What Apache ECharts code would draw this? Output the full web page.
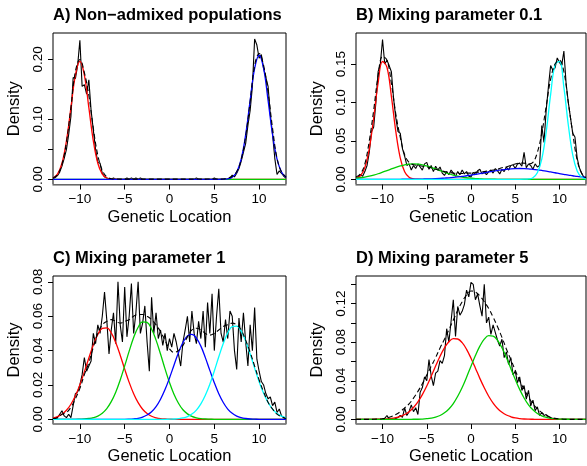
<!DOCTYPE html>
<html>
<head>
    <meta charset="utf-8">
    <title>Genetic Location densities</title>
    <style>
        html, body {
            margin: 0;
            padding: 0;
            background: #fff;
        }
        #chart {
            width: 587px;
            height: 466px;
        }
    </style>
</head>
<body>
    <div id="chart"></div>
    <script src="https://cdn.jsdelivr.net/npm/echarts@6/dist/echarts.min.js"></script>
    <script type="text/javascript">
        // x positions: coarse grid (step 0.5) for smooth curves, fine grid (step 0.25) for the noisy line
        var xCoarse = [];
        for (var i = 0; i <= 52; i++) xCoarse.push(-13 + i * 0.5);
        var xFine = [];
        for (var j = 0; j <= 104; j++) xFine.push(-13 + j * 0.25);

        var xTicks = [-10, -5, 0, 5, 10];

        // ---- A) Non-admixed populations
        var yTicksA = [0, 0.05, 0.10, 0.15, 0.20];
        var yLabelsA = [0, 0.10, 0.20];
        var blackA = [
            .001, .003, .006, .012, .022, .035, .05, .075,
            .105, .17, .168, .19, .232, .155, .158, .142,
            .166, .115, .082, .05, .028, .027, .01, .004,
            .002, .001, 0, .002, 0, 0, 0, 0,
            0, .002, 0, .002, 0, .002, 0, .002,
            0, 0, 0, 0, 0, 0, 0, 0,
            0, 0, 0, 0, 0, 0, 0, 0,
            0, 0, 0, 0, 0, 0, 0, 0,
            .002, 0, 0, 0, 0, 0, 0, 0,
            .002, 0, 0, 0, 0, 0, 0, .002,
            .007, .004, .01, .018, .03, .045, .06, .09,
            .115, .155, .234, .224, .202, .208, .185, .17,
            .155, .108, .075, .035, .008, .014, .01, .005,
            .002
        ];
        var dashedA = [
            .002, .008, .025, .062, .12, .18, .2, .178, .14, .085,
            .04, .015, .004, .001, .0005, .0003, .0003, .0003, .0003, .0003,
            .0003, .0003, .0003, .0003, .0003, .0003, .0003, .0003, .0003, .0003,
            .0003, .0003, .0005, .0003, .0003, .0005, .0005, .0003, .0006, .002,
            .005, .013, .033, .072, .13, .19, .21, .19, .145, .085,
            .035, .012, .004
        ];
        var redA = [
            .0022, .0086, .0267, .064, .1195, .1739, .197, .1739, .1195, .064,
            .0267, .0086, .0022, .0004, .0001, 0, 0, 0, 0, 0,
            0, 0, 0, 0, 0, 0, 0, 0, 0, 0,
            0, 0, 0, 0, 0, 0, 0, 0, 0, 0,
            0, 0, 0, 0, 0, 0, 0, 0, 0, 0,
            0, 0, 0
        ];
        var greenA = [
            0, 0, 0, 0, 0, 0, 0, 0, 0, 0,
            0, 0, 0, 0, 0, 0, 0, 0, 0, 0,
            0, 0, 0, 0, 0, 0, 0, 0, 0, 0,
            0, 0, 0, 0, 0, 0, 0, 0, 0, 0,
            0, 0, 0, 0, 0, 0, 0, 0, 0, 0,
            0, 0, 0
        ];
        var blueA = [
            0, 0, 0, 0, 0, 0, 0, 0, 0, 0,
            0, 0, 0, 0, 0, 0, 0, 0, 0, 0,
            0, 0, 0, 0, 0, 0, 0, 0, 0, 0,
            0, 0, 0, 0, 0, 0, 0, 0, .0001, .0008,
            .0035, .0122, .0337, .0745, .1316, .185, .207, .185, .1316, .0745,
            .0337, .0122, .0035
        ];

        // ---- B) Mixing parameter 0.1
        var yTicksB = [0, 0.05, 0.10, 0.15];
        var yLabelsB = [0, 0.05, 0.10, 0.15];
        var blackB = [
            .002, .003, .006, .004, .01, .018, .035, .062,
            .068, .1, .14, .15, .182, .15, .155, .148,
            .14, .105, .08, .062, .06, .04, .03, .018,
            .02, .012, .018, .014, .02, .016, .012, .02,
            .022, .013, .018, .01, .017, .012, .016, .008,
            .005, .01, .006, .012, .008, .004, .01, .006,
            .012, .007, .01, .004, .003, .009, .006, .011,
            .013, .007, .009, .006, .01, .012, .008, .014,
            .011, .007, .013, .01, .016, .012, .018, .019,
            .014, .02, .021, .017, .035, .015, .02, .018,
            .013, .02, .016, .018, .07, .048, .09, .12,
            .148, .142, .145, .158, .152, .148, .167, .125,
            .1, .08, .06, .055, .028, .015, .008, .003,
            .001
        ];
        var dashedB = [
            .003, .007, .02, .05, .09, .135, .16, .155, .125, .085,
            .055, .032, .022, .019, .018, .017, .016, .015, .013, .012,
            .01, .009, .008, .0075, .0075, .008, .008, .009, .0095, .01,
            .011, .012, .013, .015, .016, .018, .02, .021, .021, .02,
            .022, .035, .06, .095, .13, .15, .155, .14, .1, .06,
            .025, .008, .002
        ];
        var redB = [
            .0011, .0046, .0154, .0397, .08, .1255, .1533, .1458, .108, .0623,
            .028, .0098, .0027, .0006, .0001, 0, 0, 0, 0, 0,
            0, 0, 0, 0, 0, 0, 0, 0, 0, 0,
            0, 0, 0, 0, 0, 0, 0, 0, 0, 0,
            0, 0, 0, 0, 0, 0, 0, 0, 0, 0,
            0, 0, 0
        ];
        var greenB = [
            .0014, .002, .0029, .0041, .0055, .0072, .0092, .0113, .0134, .0155,
            .0173, .0188, .0197, .02, .0197, .0188, .0173, .0155, .0134, .0113,
            .0092, .0072, .0055, .0041, .0029, .002, .0014, .0009, .0006, .0003,
            .0002, .0001, 0, 0, 0, 0, 0, 0, 0, 0,
            0, 0, 0, 0, 0, 0, 0, 0, 0, 0,
            0, 0, 0
        ];
        var blueB = [
            0, 0, 0, 0, 0, 0, 0, 0, 0, 0,
            0, .0001, .0001, .00015, .0002, .0003, .00045, .0006, .0008, .0011,
            .0015, .0019, .0024, .003, .0037, .0046, .0054, .0064, .0074, .0085,
            .0095, .0106, .0115, .0123, .013, .0136, .0139, .014, .0139, .0136,
            .013, .0123, .0115, .0106, .0095, .0085, .0074, .0064, .0054, .0046,
            .0037, .003, .0024
        ];
        var cyanB = [
            0, 0, 0, 0, 0, 0, 0, 0, 0, 0,
            0, 0, 0, 0, 0, 0, 0, 0, 0, 0,
            0, 0, 0, 0, 0, 0, 0, 0, 0, 0,
            0, 0, 0, 0, 0, 0, 0, 0, .0001, .0004,
            .002, .0084, .0261, .0615, .1101, .1493, .1535, .1196, .0707, .0317,
            .0108, .0028, .0005
        ];

        // ---- C) Mixing parameter 1
        var yTicksC = [0, 0.02, 0.04, 0.06, 0.08];
        var yLabelsC = [0, 0.02, 0.04, 0.06, 0.08];
        var blackC = [
            0, .001, .001, .003, .005, .002, .001, .003,
            .001, .008, .015, .016, .02, .026, .036, .028,
            .031, .034, .05, .044, .055, .05, .06, .074,
            .058, .038, .052, .062, .044, .08, .055, .045,
            .077, .048, .06, .079, .05, .062, .08, .05,
            .056, .066, .045, .028, .071, .05, .062, .047,
            .052, .043, .05, .04, .047, .042, .05, .045,
            .038, .031, .045, .052, .06, .045, .063, .05,
            .044, .057, .047, .063, .042, .068, .05, .073,
            .04, .06, .076, .05, .045, .058, .047, .063,
            .06, .04, .029, .059, .045, .062, .045, .031,
            .055, .04, .065, .035, .028, .022, .02, .015,
            .012, .013, .008, .01, .004, .006, .002, .001,
            0
        ];
        var dashedC = [
            .0005, .001, .003, .004, .007, .012, .018, .026, .033, .042,
            .05, .055, .057, .058, .057, .056, .057, .058, .06, .061,
            .061, .06, .058, .055, .051, .046, .041, .039, .04, .043,
            .048, .052, .053, .052, .05, .049, .05, .052, .054, .055,
            .056, .055, .052, .046, .039, .031, .023, .016, .01, .006,
            .003, .0015, .0005
        ];
        var redC = [
            .0008, .0016, .003, .0053, .0088, .0137, .0201, .0276, .0357, .0433,
            .0494, .0529, .0532, .0503, .0447, .0373, .0292, .0215, .0149, .0097,
            .0059, .0034, .0018, .0009, .0004, .0002, .0001, 0, 0, 0,
            0, 0, 0, 0, 0, 0, 0, 0, 0, 0,
            0, 0, 0, 0, 0, 0, 0, 0, 0, 0,
            0, 0, 0
        ];
        var greenC = [
            0, 0, 0, 0, 0, 0, .0001, .0002, .0005, .001,
            .0019, .0036, .0063, .0103, .0158, .0229, .0311, .0397, .0476, .0536,
            .0567, .0564, .0526, .0461, .038, .0294, .0214, .0146, .0094, .0056,
            .0032, .0017, .0009, .0004, .0002, .0001, 0, 0, 0, 0,
            0, 0, 0, 0, 0, 0, 0, 0, 0, 0,
            0, 0, 0
        ];
        var blueC = [
            0, 0, 0, 0, 0, 0, 0, 0, 0, 0,
            0, 0, 0, 0, 0, 0, 0, .0001, .0003, .0006,
            .0013, .0025, .0044, .0074, .0117, .0173, .0241, .0315, .0388, .0447,
            .0485, .0494, .0473, .0426, .0359, .0285, .0213, .0149, .0098, .006,
            .0035, .0019, .001, .0005, .0002, .0001, 0, 0, 0, 0,
            0, 0, 0
        ];
        var cyanC = [
            0, 0, 0, 0, 0, 0, 0, 0, 0, 0,
            0, 0, 0, 0, 0, 0, 0, 0, 0, 0,
            0, 0, 0, 0, 0, 0, .0001, .0002, .0004, .0008,
            .0016, .0031, .0054, .009, .014, .0204, .0281, .0364, .0441, .0503,
            .0539, .0542, .0513, .0455, .038, .0298, .0219, .0152, .0098, .006,
            .0034, .0019, .0009
        ];

        // ---- D) Mixing parameter 5
        var yTicksD = [0, 0.02, 0.04, 0.06, 0.08, 0.10, 0.12, 0.14];
        var yLabelsD = [0, 0.04, 0.08, 0.12];
        var blackD = [
            0, 0, 0, 0, 0, 0, 0, 0,
            0, 0, 0, 0, 0, .001, .004, 0,
            .001, 0, .001, .002, .004, .002, .012, .004,
            .008, .015, .008, .012, .005, .028, .033, .044,
            .04, .062, .045, .035, .048, .05, .061, .058,
            .066, .094, .08, .102, .124, .086, .117, .108,
            .112, .119, .134, .127, .142, .14, .124, .13,
            .118, .107, .14, .1, .106, .088, .098, .09,
            .082, .076, .083, .064, .07, .057, .064, .046,
            .05, .038, .044, .03, .035, .021, .03, .014,
            .02, .009, .013, .004, .007, .004, .005, .003,
            .002, .001, 0, 0, 0, 0, 0, 0,
            0, 0, 0, 0, 0, 0, 0, 0,
            0
        ];
        var dashedD = [
            0, 0, 0, 0, .0001, .0003, .0007, .0015, .003, .005,
            .008, .012, .016, .022, .029, .037, .046, .055, .064, .074,
            .083, .093, .103, .113, .122, .129, .133, .132, .128, .122,
            .115, .106, .096, .085, .073, .062, .051, .04, .031, .023,
            .016, .011, .007, .004, .002, .001, .0005, .0002, 0, 0,
            0, 0, 0
        ];
        var redD = [
            0, 0, 0, 0, .0001, .0001, .0002, .0005, .0009, .0017,
            .003, .005, .008, .0123, .0181, .0256, .0345, .0446, .0552, .0654,
            .0741, .0805, .0837, .0833, .0795, .0726, .0634, .0531, .0425, .0327,
            .024, .0169, .0113, .0073, .0045, .0027, .0015, .0008, .0004, .0002,
            .0001, 0, 0, 0, 0, 0, 0, 0, 0, 0,
            0, 0, 0
        ];
        var greenD = [
            0, 0, 0, 0, 0, 0, 0, 0, 0, 0,
            0, 0, 0, .0001, .0001, .0003, .0007, .0013, .0023, .004,
            .0068, .0108, .0164, .0239, .033, .0437, .0551, .0662, .0759, .0831,
            .0867, .0863, .0819, .0742, .0641, .0527, .0415, .0311, .0222, .0151,
            .0099, .0061, .0036, .0021, .0011, .0006, .0003, .0001, .0001, 0,
            0, 0, 0
        ];

        var RED = '#FF0000', GREEN = '#00CD00', BLUE = '#0000FF', CYAN = '#00FFFF';
        var FONT = 'Liberation Sans, Arial, Helvetica, sans-serif';

        var panels = [
            {
                title: 'A) Non\u2212admixed populations',
                box: { left: 53, top: 33, width: 233, height: 151.5 },
                ymin: -0.0087, ymax: 0.2441,
                yTicks: yTicksA, yLabels: yLabelsA,
                black: blackA, dashed: dashedA,
                comps: [[redA, RED], [greenA, GREEN], [blueA, BLUE]]
            },
            {
                title: 'B) Mixing parameter 0.1',
                box: { left: 356, top: 33, width: 230, height: 151.5 },
                ymin: -0.0068, ymax: 0.1904,
                yTicks: yTicksB, yLabels: yLabelsB,
                black: blackB, dashed: dashedB,
                comps: [[redB, RED], [greenB, GREEN], [blueB, BLUE], [cyanB, CYAN]]
            },
            {
                title: 'C) Mixing parameter 1',
                box: { left: 53, top: 276, width: 233, height: 150 },
                ymin: -0.0027, ymax: 0.0834,
                yTicks: yTicksC, yLabels: yLabelsC,
                black: blackC, dashed: dashedC,
                comps: [[redC, RED], [greenC, GREEN], [blueC, BLUE], [cyanC, CYAN]]
            },
            {
                title: 'D) Mixing parameter 5',
                box: { left: 356, top: 276, width: 230, height: 150 },
                ymin: -0.0048, ymax: 0.1486,
                yTicks: yTicksD, yLabels: yLabelsD,
                black: blackD, dashed: dashedD,
                comps: [[redD, RED], [greenD, GREEN]]
            }
        ];

        function pairs(xs, ys) {
            return ys.map(function (v, k) { return [xs[k], v]; });
        }

        function fmtX(v) {
            return v < 0 ? '\u2212' + Math.abs(v) : String(v);
        }

        var titles = [], grids = [], xAxes = [], yAxes = [], series = [];

        panels.forEach(function (p, k) {
            titles.push({
                text: p.title,
                left: p.box.left,
                top: p.box.top - 26,
                padding: 0,
                textStyle: { fontFamily: FONT, fontSize: 16.5, fontWeight: 'bold', color: '#000' }
            });
            grids.push({
                left: p.box.left, top: p.box.top, width: p.box.width, height: p.box.height,
                show: true, borderColor: '#000', borderWidth: 1, backgroundColor: 'transparent'
            });
            xAxes.push({
                gridIndex: k, type: 'value', min: -13, max: 13,
                axisLine: { show: true, onZero: false, lineStyle: { color: '#8c8c8c', width: 1.5 } },
                axisTick: { show: true, length: 5, customValues: xTicks, lineStyle: { color: '#000' } },
                axisLabel: {
                    customValues: xTicks, margin: 8, color: '#000',
                    fontFamily: FONT, fontSize: 13.5, formatter: fmtX
                },
                splitLine: { show: false },
                name: 'Genetic Location', nameLocation: 'middle', nameGap: 24,
                nameTextStyle: { fontFamily: FONT, fontSize: 16.5, color: '#000' }
            });
            yAxes.push({
                gridIndex: k, type: 'value', min: p.ymin, max: p.ymax,
                axisLine: { show: false, onZero: false },
                axisTick: { show: true, length: 5, customValues: p.yTicks, lineStyle: { color: '#000' } },
                axisLabel: {
                    customValues: p.yLabels, rotate: 90, margin: 8, color: '#000',
                    fontFamily: FONT, fontSize: 13.5,
                    formatter: function (v) { return v.toFixed(2); }
                },
                splitLine: { show: false },
                name: 'Density', nameLocation: 'middle', nameGap: 30, nameRotate: 90,
                nameTextStyle: { fontFamily: FONT, fontSize: 16.5, color: '#000' }
            });

            // noisy density line
            series.push({
                type: 'line', xAxisIndex: k, yAxisIndex: k,
                data: pairs(xFine, p.black),
                symbol: 'none', lineStyle: { color: '#000', width: 1.1 }
            });
            // mixture components
            p.comps.forEach(function (c) {
                series.push({
                    type: 'line', xAxisIndex: k, yAxisIndex: k,
                    data: pairs(xCoarse, c[0]),
                    symbol: 'none', smooth: 0.4,
                    lineStyle: { color: c[1], width: 1.3 }
                });
            });
            // smoothed density (dashed)
            series.push({
                type: 'line', xAxisIndex: k, yAxisIndex: k,
                data: pairs(xCoarse, p.dashed),
                symbol: 'none', smooth: 0.4,
                lineStyle: { color: '#000', width: 1.1, type: [5, 3] }
            });
        });

        var myChart = echarts.init(document.getElementById('chart'), null, { renderer: 'canvas' });
        myChart.setOption({
            animation: false,
            backgroundColor: '#fff',
            title: titles,
            grid: grids,
            xAxis: xAxes,
            yAxis: yAxes,
            series: series
        });
    </script>
</body>
</html>
